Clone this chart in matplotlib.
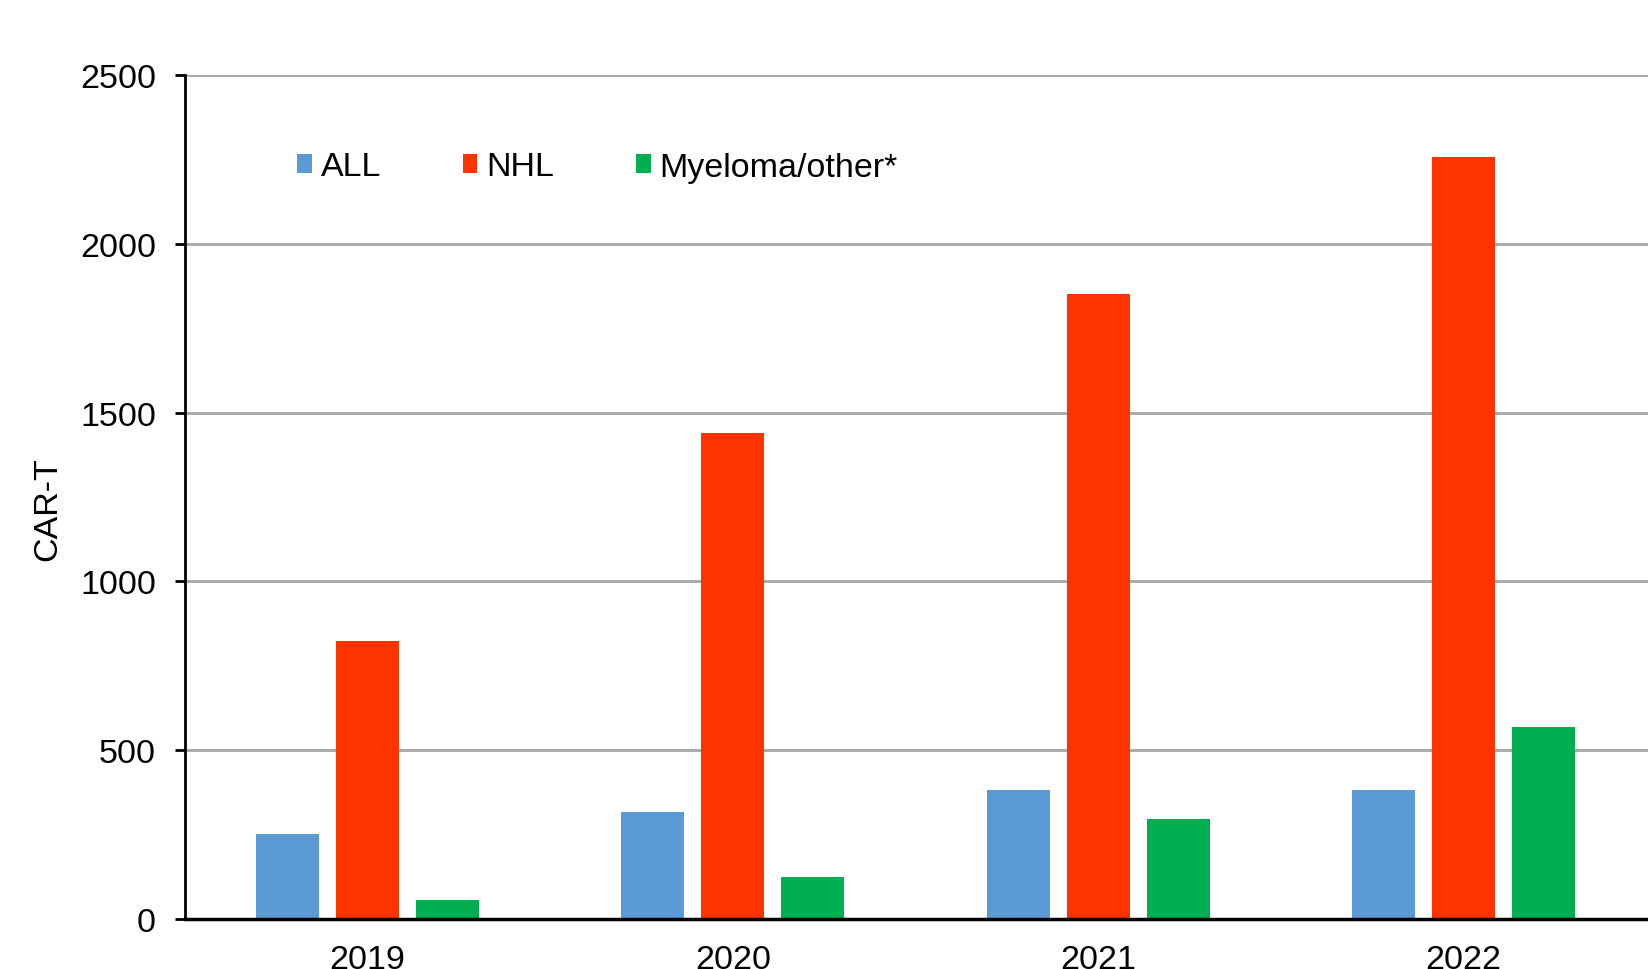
import numpy as np
import matplotlib
matplotlib.use("Agg")
import matplotlib.pyplot as plt
from matplotlib.patches import Patch

plt.rcParams["font.family"] = ["Liberation Sans", "DejaVu Sans"]

years = ["2019", "2020", "2021", "2022"]
all_vals = [252, 316, 381, 381]
nhl_vals = [825, 1441, 1851, 2258]
myeloma_vals = [55, 124, 295, 569]

series_names = ["ALL", "NHL", "Myeloma/other*"]
colors = ["#5B9BD5", "#FF3300", "#00B050"]

fig = plt.figure(figsize=(16.48, 9.70), dpi=100)
ax = fig.add_axes([185 / 1648, 0.0515, 1 - 185 / 1648, 0.9216 - 0.0515])

x = np.arange(len(years))
width = 0.1725
step = 0.219
for i, (vals, col) in enumerate(zip([all_vals, nhl_vals, myeloma_vals], colors)):
    ax.bar(x + (i - 1) * step, vals, width=width, color=col, edgecolor="none", zorder=3)

ax.set_ylim(0, 2500)
ax.set_xlim(-0.5, 3.505)
ax.set_yticks([0, 500, 1000, 1500, 2000, 2500])
ax.set_xticks(x)
ax.set_xticklabels(years)

ax.grid(axis="y", color="#a6a6a6", linewidth=2, zorder=0)
ax.set_axisbelow(True)

for s in ["top", "right"]:
    ax.spines[s].set_visible(False)
ax.spines["left"].set_linewidth(2)
ax.spines["bottom"].set_linewidth(2.5)
ax.spines["bottom"].set_zorder(4)

ax.tick_params(axis="y", length=7, width=2, direction="out", labelsize=24.5, pad=14)
ax.tick_params(axis="x", length=0, labelsize=24.5, pad=18)

fig.text(48 / 1648, 1 - 509 / 970, "CAR-T", rotation=90, ha="center", va="center", fontsize=24.5)

handles = [Patch(facecolor=c, edgecolor="none") for c in colors]
fig.legend(handles, series_names, loc="center left", bbox_to_anchor=(297 / 1648, 1 - 168 / 970),
           ncol=3, frameon=False, fontsize=24.5, handlelength=0.44, handleheight=0.47,
           handletextpad=0.25, columnspacing=2.4, borderpad=0, borderaxespad=0)

fig.savefig("out.png", dpi=100)
